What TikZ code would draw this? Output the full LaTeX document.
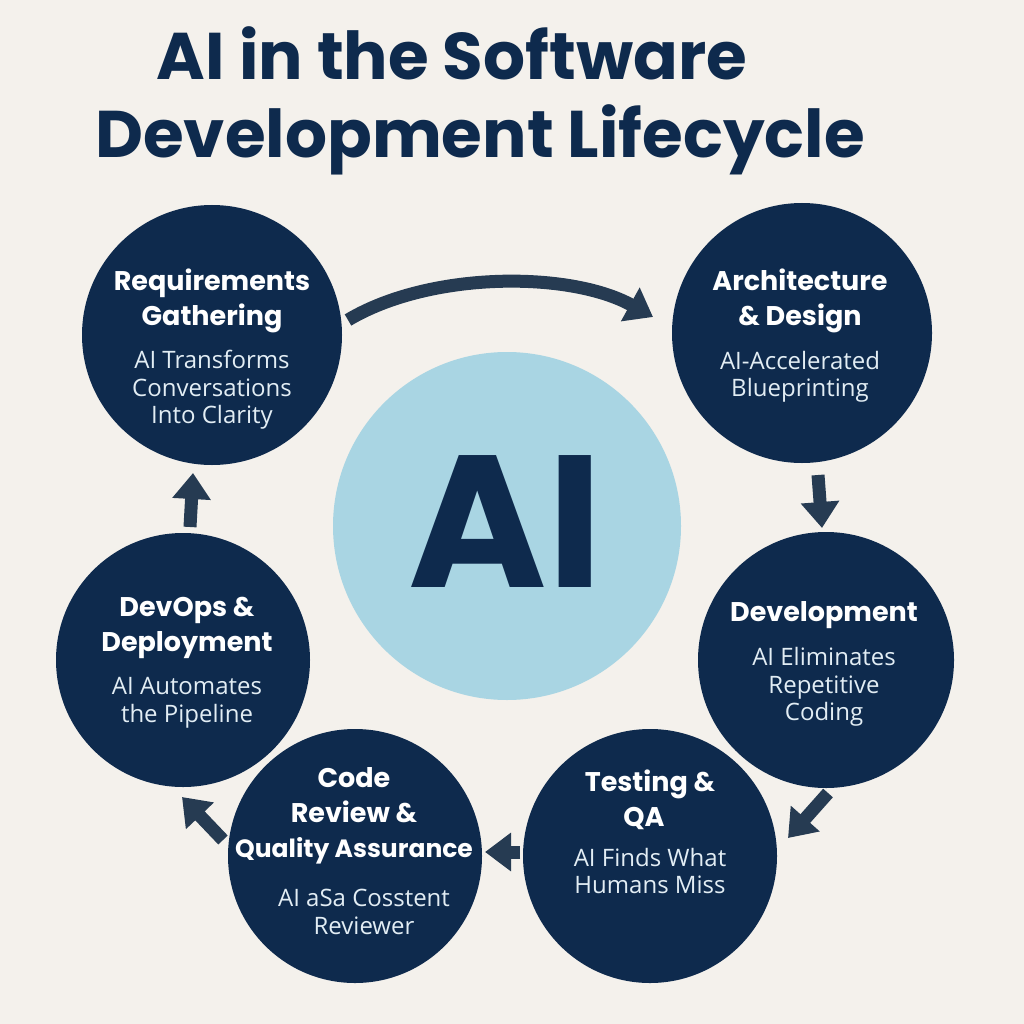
\documentclass[tikz,border=0pt]{standalone}
\usepackage{fontspec}
\setmainfont{Open Sans}
\newfontfamily\headfont{Poppins}
\usetikzlibrary{arrows.meta}
\definecolor{bg}{HTML}{F4F1EC}
\definecolor{navy}{HTML}{0E2A4D}
\definecolor{aiblue}{HTML}{A9D5E3}
\definecolor{arrowc}{HTML}{263B52}
\definecolor{subc}{HTML}{E2EDF4}
\tikzset{
  phase/.style={circle, fill=navy, inner sep=0pt, minimum size=#1},
  head/.style={text=white, align=center, inner sep=0pt, font=\headfont\bfseries\fontsize{27}{35}\selectfont},
  sub/.style={text=subc, align=center, inner sep=0pt, font=\fontsize{24}{27.5}\selectfont},
  title/.style={text=navy, inner sep=0pt, anchor=base, font=\headfont\bfseries\fontsize{66}{66}\selectfont},
  flow/.style={draw=arrowc, line width=13pt, -{Triangle[width=37pt,length=26pt]}}
}
\begin{document}
\begin{tikzpicture}[x=1pt,y=-1pt]
\fill[bg] (0,0) rectangle (1024,1024);
\useasboundingbox (0,0) rectangle (1024,1024);

\node[title] (t1) at (452,80) {AI in the Software};
\node[title] (t2) at (480,158) {Development Lifecycle};

\node[circle, fill=aiblue, inner sep=0pt, minimum size=348pt] (ai) at (507,526) {};
\node[text=navy, inner sep=0pt, font=\headfont\bfseries\fontsize{188}{188}\selectfont] (ait) at (506,522) {AI};

\node[phase=260pt] (req) at (212,335) {};
\node[phase=260pt] (arch) at (802,333) {};
\node[phase=256pt] (dev) at (826,660) {};
\node[phase=254pt] (test) at (650,856) {};
\node[phase=254pt] (rev) at (355,856) {};
\node[phase=254pt] (ops) at (183,660) {};

\node[head] (reqh) at (212,301) {Requirements\\Gathering};
\node[sub] (reqs) at (212,390) {AI Transforms\\Conversations\\Into Clarity};

\node[head] (archh) at (800,301) {Architecture\\\& Design};
\node[sub] (archs) at (800,377) {AI-Accelerated\\Blueprinting};

\node[head] (devh) at (824,615) {Development};
\node[sub] (devs) at (824,687) {AI Eliminates\\Repetitive\\Coding};

\node[head] (testh) at (650,800) {Testing \&\\QA\hspace*{12pt}};
\node[sub] (tests) at (650,871) {AI Finds What\\Humans Miss};

\node[head] (revh) at (354,816) {Code\\Review \&\hspace*{24pt}\\{\fontsize{25}{35}\selectfont Quality Assurance}};
\node[sub] (revs) at (364,912) {AI aSa Cosstent\\Reviewer};

\node[head] (opsh) at (187,628) {DevOps \&\\Deployment};
\node[sub] (opss) at (187,703) {AI Automates\\the Pipeline};

\coordinate (a1s) at (348,320);
\coordinate (a1e) at (653,317);
\coordinate (a2s) at (818,475);
\coordinate (a2e) at (822,528);
\coordinate (a3s) at (828,793);
\coordinate (a3e) at (788,838);
\coordinate (a4s) at (520,852);
\coordinate (a4e) at (485,852);
\coordinate (a5s) at (223,840);
\coordinate (a5e) at (182,797);
\coordinate (a6s) at (190,527);
\coordinate (a6e) at (193,473);

\draw[flow] (a1s) .. controls (430,271) and (570,271) .. (a1e);
\draw[flow] (a2s) -- (a2e);
\draw[flow] (a3s) -- (a3e);
\draw[flow] (a4s) -- (a4e);
\draw[flow] (a5s) -- (a5e);
\draw[flow] (a6s) -- (a6e);
\end{tikzpicture}
\end{document}
